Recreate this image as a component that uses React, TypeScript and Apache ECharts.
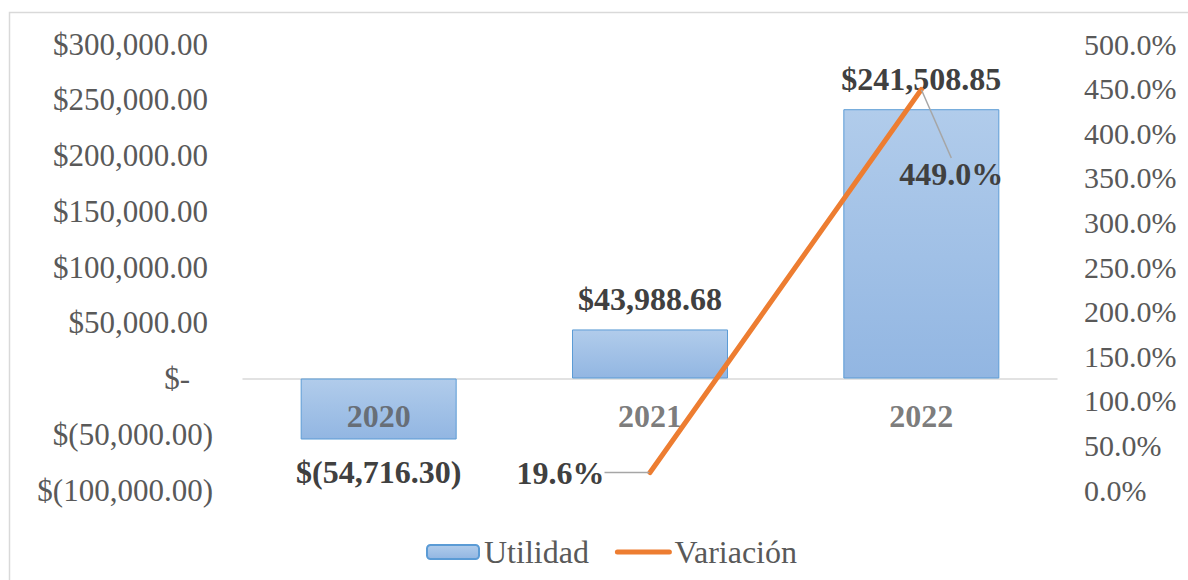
import React, { useEffect, useRef } from "react";
import * as echarts from "echarts";

const categories = ["2020", "2021", "2022"];
const utilidad = [-54716.3, 43988.68, 241508.85];
const variacion = [null, 19.6, 449.0];
const leftMin = -100000;
const leftMax = 300000;
const leftInterval = 50000;
const rightMin = 0;
const rightMax = 500;
const rightInterval = 50;

const FONT = "'Liberation Serif', 'Times New Roman', serif";
const TXT = "#595959";
const LBL = "#404040";

function money(v: number): string {
  const s = Math.abs(v).toLocaleString("en-US", { minimumFractionDigits: 2, maximumFractionDigits: 2 });
  return v < 0 ? "$(" + s + ")" : "$" + s;
}

export default function App() {
  const ref = useRef<HTMLDivElement>(null);
  useEffect(() => {
    if (!ref.current) return;
    const chart = echarts.init(ref.current, null, { renderer: "svg" });
    const barColor = new echarts.graphic.LinearGradient(0, 0, 0, 1, [
      { offset: 0, color: "#B1CCEB" },
      { offset: 1, color: "#92B6E2" },
    ]);
    chart.setOption({
      animation: false,
      textStyle: { fontFamily: FONT },
      graphic: [
        {
          type: "rect",
          shape: { x: 9.5, y: 12.5, width: 1400, height: 800 },
          style: { fill: "none", stroke: "#D9D9D9", lineWidth: 1.5 },
          silent: true,
        },
      ],
      grid: { left: 243, right: 131, top: 44, bottom: 90 },
      legend: {
        left: 421,
        top: 531,
        itemWidth: 52,
        itemHeight: 14,
        itemGap: 26,
        textStyle: { fontFamily: FONT, fontSize: 32, color: TXT },
        data: [
          { name: "Utilidad" },
          {
            name: "Variación",
            itemStyle: { opacity: 0 },
            lineStyle: { width: 5, cap: "round", color: "#ED7D31" },
          },
        ],
      },
      xAxis: {
        type: "category",
        data: categories,
        axisLine: { onZero: true, onZeroAxisIndex: 0, lineStyle: { color: "#D9D9D9", width: 1.5 } },
        axisTick: { show: false },
        axisLabel: { show: false },
        splitLine: { show: false },
      },
      yAxis: [
        {
          type: "value",
          min: leftMin,
          max: leftMax,
          interval: leftInterval,
          axisLine: { show: false },
          axisTick: { show: false },
          splitLine: { show: false },
          axisLabel: {
            margin: 30,
            fontFamily: FONT,
            fontSize: 31,
            color: TXT,
            formatter: (v: number) => {
              if (v === 0) return "{z|$-}";
              if (v > 0) return "{p|" + money(v) + "}";
              return "{n|" + money(v) + "}";
            },
            rich: {
              z: { fontFamily: FONT, fontSize: 31, color: TXT, padding: [0, 23, 0, 0] },
              p: { fontFamily: FONT, fontSize: 31, color: TXT, padding: [0, 5, 0, 0] },
              n: { fontFamily: FONT, fontSize: 31, color: TXT },
            },
          },
        },
        {
          type: "value",
          min: rightMin,
          max: rightMax,
          interval: rightInterval,
          position: "right",
          axisLine: { show: false },
          axisTick: { show: false },
          splitLine: { show: false },
          axisLabel: {
            margin: 27,
            fontFamily: FONT,
            fontSize: 30,
            color: TXT,
            formatter: (v: number) => v.toFixed(1) + "%",
          },
        },
      ],
      series: [
        {
          name: "Utilidad",
          type: "bar",
          z: 1,
          barWidth: 156,
          yAxisIndex: 0,
          itemStyle: { color: barColor, borderColor: "#5B9BD5", borderWidth: 1 },
          label: {
            show: true,
            position: "top",
            distance: 14,
            fontFamily: FONT,
            fontSize: 32,
            fontWeight: "bold",
            color: LBL,
            formatter: (p: any) => money(p.value),
          },
          data: utilidad.map((v) =>
            v < 0 ? { value: v, label: { position: "bottom", distance: 16 } } : { value: v }
          ),
        },
        {
          name: "categoryLabels",
          type: "scatter",
          z: 2,
          yAxisIndex: 0,
          symbolSize: 0.01,
          silent: true,
          itemStyle: { color: "rgba(0,0,0,0)" },
          label: {
            show: true,
            position: "bottom",
            distance: 21,
            fontFamily: FONT,
            fontSize: 32,
            fontWeight: "bold",
            color: TXT,
            formatter: (p: any) => categories[p.dataIndex],
          },
          data: categories.map(() => 0),
        },
        {
          name: "Variación",
          type: "line",
          z: 3,
          yAxisIndex: 1,
          symbol: "circle",
          symbolSize: 1,
          showSymbol: true,
          lineStyle: { color: "#ED7D31", width: 5, cap: "round" },
          itemStyle: { color: "#ED7D31" },
          label: {
            show: true,
            position: "top",
            distance: 5,
            fontFamily: FONT,
            fontSize: 32,
            fontWeight: "bold",
            color: LBL,
            formatter: (p: any) => Number(p.value).toFixed(1) + "%",
          },
          labelLine: { show: true, lineStyle: { color: "#A6A6A6", width: 1.5 } },
          labelLayout: (p: any) => {
            if (p.dataIndex === 1) return { dx: -40 };
            if (p.dataIndex === 2) return { dx: 30, dy: 106 };
            return {};
          },
          data: variacion.map((v, i) =>
            i === 1 ? { value: v, label: { position: "left" } } : { value: v }
          ),
        },
      ],
    });
    return () => chart.dispose();
  }, []);
  return (
    <div
      ref={ref}
      style={{ position: "absolute", left: 0, top: 0, width: 1188, height: 580, background: "#fff" }}
    />
  );
}
